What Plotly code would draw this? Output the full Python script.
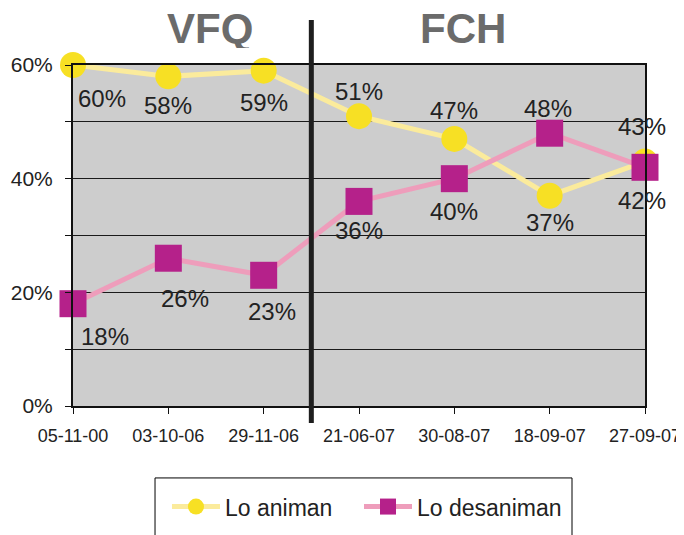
import plotly.graph_objects as go

fechas = ["05-11-00", "03-10-06", "29-11-06", "21-06-07", "30-08-07", "18-09-07", "27-09-07"]
animan = [60, 58, 59, 51, 47, 37, 43]
desaniman = [18, 26, 23, 36, 40, 48, 42]

# label offsets (px) for readability, matching the reference placement
anim_off = [(29, -33), (0, -29), (0, -32), (0, 25), (0, 28), (0, -27), (-3, 35)]
des_off = [(32, -33), (17, -40), (8, -36), (0, -29), (0, -33), (-2, 25), (-3, -33)]

FONT = "Liberation Sans, Arial, sans-serif"

fig = go.Figure()
fig.add_trace(go.Scatter(
    x=fechas, y=animan, name="Lo animan", mode="lines+markers",
    line=dict(color="#fbeb9c", width=5), cliponaxis=False, legend="legend",
    marker=dict(symbol="circle", size=26, color="#f7e024"),
))
fig.add_trace(go.Scatter(
    x=fechas, y=desaniman, name="Lo desaniman", mode="lines+markers",
    line=dict(color="#ee9dbb", width=5), cliponaxis=False, legend="legend2",
    marker=dict(symbol="square", size=27, color="#b5218a"),
))

for xs, ys, offs in ((fechas, animan, anim_off), (fechas, desaniman, des_off)):
    for xv, yv, (dx, dy) in zip(xs, ys, offs):
        fig.add_annotation(x=xv, y=yv, xref="x", yref="y", text=f"{yv}%",
                           showarrow=False, xshift=dx, yshift=dy,
                           font=dict(family=FONT, size=24, color="#222222"))

# divider between periods
fig.add_shape(type="line", xref="x", yref="paper", x0=2.5, x1=2.5, y0=-0.05, y1=1.132,
              line=dict(color="#1e1e1e", width=5), layer="above")

# legend frame
fig.add_shape(type="rect", xref="paper", yref="paper",
              x0=0.1434, x1=0.8724, y0=-0.46, y1=-0.211,
              line=dict(color="#000000", width=1), fillcolor="rgba(0,0,0,0)")

for txt, xv in (("VFQ", 1.44), ("FCH", 4.09)):
    fig.add_annotation(x=xv, y=1.108, xref="x", yref="paper", text=f"<b>{txt}</b>",
                       showarrow=False, yanchor="middle", height=40, valign="middle",
                       borderpad=0,
                       font=dict(family=FONT, size=42, color="#6b6b6b"))

ytick_vals = [0, 10, 20, 30, 40, 50, 60]
ytick_text = ["0%", "", "20%", "", "40%", "", "60%"]

leg_common = dict(orientation="h", xanchor="left", y=-0.232, yanchor="top",
                  borderwidth=0, bgcolor="rgba(0,0,0,0)", itemwidth=48,
                  font=dict(size=23, family=FONT, color="#222222"))

fig.update_layout(
    width=676, height=537,
    margin=dict(l=65, r=39, t=57, b=139),
    paper_bgcolor="white", plot_bgcolor="#cdcdcd",
    font=dict(family=FONT, color="#222222"),
    showlegend=True,
    legend=dict(x=0.1643, **leg_common),
    legend2=dict(x=0.5, **leg_common),
    xaxis=dict(type="category", range=[0, 6], showgrid=False, zeroline=False,
               automargin=False,
               showline=True, linecolor="#111111", linewidth=2, mirror=True,
               ticks="outside", ticklen=6, tickcolor="#111111", ticklabelstandoff=6,
               tickfont=dict(size=18, family=FONT, color="#222222")),
    yaxis=dict(range=[0, 60], tickvals=ytick_vals, ticktext=ytick_text,
               automargin=False,
               showgrid=True, gridcolor="#1a1a1a", gridwidth=1, zeroline=False,
               showline=True, linecolor="#111111", linewidth=2, mirror=True,
               ticks="outside", ticklen=6, tickcolor="#111111", ticklabelstandoff=8,
               tickfont=dict(size=21, family=FONT, color="#222222")),
)

fig.write_html("out.html")
